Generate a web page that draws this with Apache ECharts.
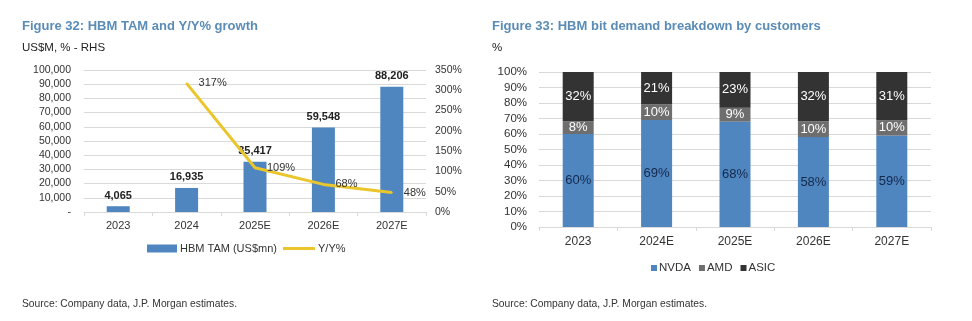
<!DOCTYPE html>
<html><head><meta charset="utf-8">
<script src="https://cdn.jsdelivr.net/npm/echarts@6/dist/echarts.min.js"></script>
<style>html,body{margin:0;padding:0;background:#fff}#c{width:972px;height:321px}</style>
</head><body><div id="c"></div>
<script>
const tamCategories = ['2023','2024','2025E','2026E','2027E'];
const tamValues = [4065, 16935, 35417, 59548, 88206];
const yoyValues = [null, 317, 109, 68, 48];

const mixCategories = ['2023','2024E','2025E','2026E','2027E'];
const nvdaShare = [60, 69, 68, 58, 59];
const amdShare = [8, 10, 9, 10, 10];
const asicShare = [32, 21, 23, 32, 31];

const F = 'Liberation Sans, Arial, sans-serif';
const grid = '#d9d9d9';
const blue = '#4f86c0';
const yellow = '#eac62c';

const chart = echarts.init(document.getElementById('c'), null, {renderer:'canvas'});
chart.setOption({
  backgroundColor:'#fff',
  animation:false,
  textStyle:{fontFamily:F},
  title:[
    {text:'Figure 32: HBM TAM and Y/Y% growth', left:17, top:15, textStyle:{fontFamily:F, fontSize:13, fontWeight:'bold', color:'#5a8cb6'}},
    {text:'US$M, % - RHS', left:17, top:37, textStyle:{fontFamily:F, fontSize:11.5, fontWeight:'normal', color:'#222'}},
    {text:'Figure 33: HBM bit demand breakdown by customers', left:487, top:15, textStyle:{fontFamily:F, fontSize:13, fontWeight:'bold', color:'#5a8cb6'}},
    {text:'%', left:487, top:37, textStyle:{fontFamily:F, fontSize:11.5, fontWeight:'normal', color:'#222'}},
    {text:'Source: Company data, J.P. Morgan estimates.', left:17, top:294, textStyle:{fontFamily:F, fontSize:10.3, fontWeight:'normal', color:'#333'}},
    {text:'Source: Company data, J.P. Morgan estimates.', left:487, top:294, textStyle:{fontFamily:F, fontSize:10.3, fontWeight:'normal', color:'#333'}}
  ],
  legend:[
    {data:['HBM TAM (US$mn)'], left:142, top:238, icon:'rect', itemWidth:30, itemHeight:8, itemGap:10,
     textStyle:{fontFamily:F, fontSize:11, color:'#333', padding:[0,0,0,-2]}},
    {data:['Y/Y%'], left:278, top:238, icon:'rect', itemWidth:32, itemHeight:3,
     textStyle:{fontFamily:F, fontSize:11, color:'#333', padding:[0,0,0,-2]}},
    {data:['NVDA','AMD','ASIC'], left:646, top:257, icon:'rect', itemWidth:6, itemHeight:6, itemGap:8,
     textStyle:{fontFamily:F, fontSize:11.5, color:'#333', padding:[0,0,0,-3]}}
  ],
  grid:[
    {left:84, right:546, top:70, bottom:109},
    {left:539, right:41, top:72, bottom:94}
  ],
  xAxis:[
    {type:'category', gridIndex:0, data:tamCategories,
     axisLine:{lineStyle:{color:grid}}, axisTick:{show:true, length:4, lineStyle:{color:grid}},
     axisLabel:{color:'#333', fontSize:11, margin:8, fontFamily:F}},
    {type:'category', gridIndex:1, data:mixCategories,
     axisLine:{lineStyle:{color:grid}}, axisTick:{show:true, length:4, lineStyle:{color:grid}},
     axisLabel:{color:'#333', fontSize:12, margin:9, fontFamily:F}}
  ],
  yAxis:[
    {type:'value', gridIndex:0, min:0, max:100000, interval:10000,
     axisLine:{show:false}, axisTick:{show:false},
     splitLine:{lineStyle:{color:grid}},
     axisLabel:{color:'#333', fontSize:10.5, margin:13, fontFamily:F,
       formatter:v=> v===0 ? '-' : v.toLocaleString('en-US')}},
    {type:'value', gridIndex:0, min:0, max:350, interval:50, position:'right',
     axisLine:{show:false}, axisTick:{show:false}, splitLine:{show:false},
     axisLabel:{color:'#333', fontSize:10.5, margin:9, fontFamily:F, formatter:'{value}%'}},
    {type:'value', gridIndex:1, min:0, max:100, interval:10,
     axisLine:{show:false}, axisTick:{show:false},
     splitLine:{lineStyle:{color:grid}},
     axisLabel:{color:'#333', fontSize:11.5, margin:12, fontFamily:F, formatter:'{value}%'}}
  ],
  series:[
    {name:'HBM TAM (US$mn)', type:'bar', xAxisIndex:0, yAxisIndex:0, data:tamValues, barWidth:23,
     itemStyle:{color:blue},
     label:{show:true, position:'top', distance:5, fontWeight:'bold', fontSize:11, color:'#222', fontFamily:F,
       formatter:p=>p.value.toLocaleString('en-US')}},
    {name:'Y/Y%', type:'line', xAxisIndex:0, yAxisIndex:1, data:yoyValues, symbol:'circle', symbolSize:2, showSymbol:true,
     lineStyle:{color:yellow, width:3}, itemStyle:{color:yellow},
     label:{show:true, position:'right', distance:11, fontSize:11, color:'#333', fontFamily:F, formatter:'{c}%'}},
    {name:'NVDA', type:'bar', stack:'m', xAxisIndex:1, yAxisIndex:2, data:nvdaShare, barWidth:31,
     itemStyle:{color:blue},
     label:{show:true, position:'inside', fontSize:13, color:'#14284a', fontFamily:F, formatter:'{c}%'}},
    {name:'AMD', type:'bar', stack:'m', xAxisIndex:1, yAxisIndex:2, data:amdShare, barWidth:31,
     itemStyle:{color:'#6e6e6e'},
     label:{show:true, position:'inside', fontSize:13, color:'#fff', fontFamily:F, formatter:'{c}%'}},
    {name:'ASIC', type:'bar', stack:'m', xAxisIndex:1, yAxisIndex:2, data:asicShare, barWidth:31,
     itemStyle:{color:'#333333'},
     label:{show:true, position:'inside', fontSize:13, color:'#fff', fontFamily:F, formatter:'{c}%'}}
  ]
});
</script></body></html>
